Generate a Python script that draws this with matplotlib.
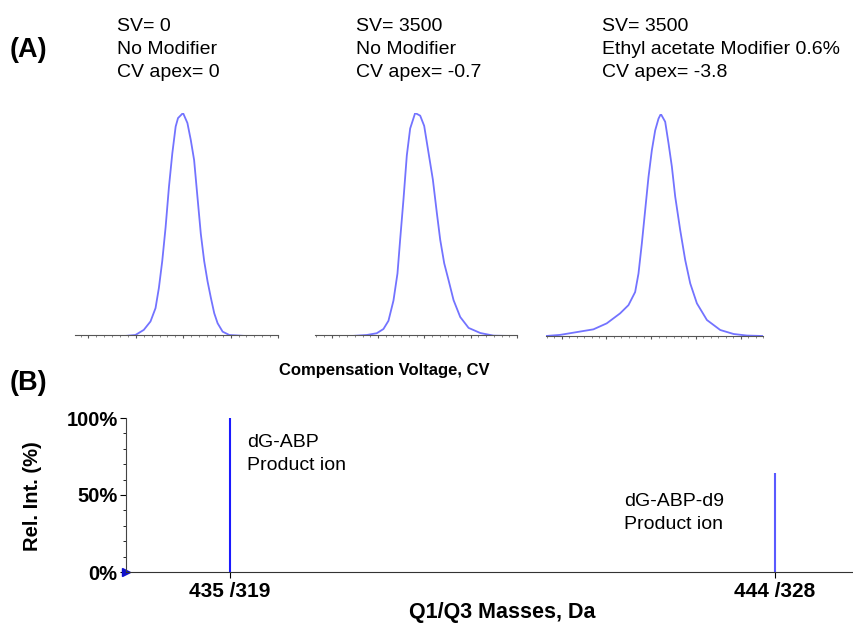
import matplotlib
matplotlib.use("Agg")
import matplotlib.pyplot as plt
from matplotlib.ticker import FixedLocator, MultipleLocator
import numpy as np

plt.rcParams["font.family"] = ["Liberation Sans", "DejaVu Sans"]

# ---- panel A: CV scans (x in arbitrary scan units, y in % of apex) ----
cv_1 = [45, 190, 225, 250, 270, 285, 295, 305, 315, 325, 335, 345, 352, 367,
        380, 390, 400, 410, 420, 430, 440, 450, 460, 470, 485, 505, 560, 650]
int_1 = [-0.5, -0.5, 0.0, 2.3, 6.1, 12.1, 21.2, 33.3, 48.5, 66.7, 81.8, 93.9,
         97.7, 100.0, 95.5, 87.9, 78.8, 62.1, 45.5, 33.3, 24.2, 16.7, 9.8,
         5.3, 1.5, 0.0, -0.5, -0.5]

cv_2 = [45, 150, 200, 230, 250, 265, 280, 292, 300, 310, 320, 330, 345, 360,
        372, 385, 398, 410, 420, 432, 445, 460, 480, 505, 540, 580, 650]
int_2 = [-0.5, -0.5, 0.0, 0.8, 2.7, 6.4, 15.5, 27.7, 42.9, 61.1, 80.9, 93.0,
         100.0, 98.8, 94.2, 82.1, 70.0, 54.9, 42.9, 32.3, 24.7, 15.7, 8.1,
         3.2, 0.9, -0.3, -0.5]

cv_3 = [18, 60, 100, 160, 200, 240, 265, 285, 295, 305, 315, 325, 335, 345,
        355, 362, 375, 385, 395, 405, 420, 435, 450, 470, 500, 540, 580, 620, 668]
int_3 = [0.0, 0.5, 1.5, 3.0, 5.7, 10.2, 13.9, 19.8, 28.1, 41.6, 56.6, 71.6,
         83.6, 92.6, 97.9, 100.0, 96.5, 86.8, 76.3, 62.8, 47.7, 34.2, 23.7,
         14.7, 7.2, 2.7, 0.9, 0.2, 0.0]

scan_labels = [
    ["SV= 0", "No Modifier", "CV apex= 0"],
    ["SV= 3500", "No Modifier", "CV apex= -0.7"],
    ["SV= 3500", "Ethyl acetate Modifier 0.6%", "CV apex= -3.8"],
]

# ---- panel B: MRM transitions ----
transitions = ["435 /319", "444 /328"]
rel_int = [100, 64]
ion_names = [["dG-ABP", "Product ion"], ["dG-ABP-d9", "Product ion"]]

W, H = 854, 624
fig = plt.figure(figsize=(W / 100, H / 100), dpi=100)


def box(x0, y0, x1, y1):
    # pixel box (top-left origin) -> figure fraction rect
    return [x0 / W, 1 - y1 / H, (x1 - x0) / W, (y1 - y0) / H]


def fpos(x, y):
    return x / W, 1 - y / H


peak_color = "#7373ff"
scans = [(cv_1, int_1), (cv_2, int_2), (cv_3, int_3)]
boxes = [box(75, 113, 278, 335), box(315, 113, 517, 335), box(546, 114, 763, 336)]
xlims = [(45, 650), (45, 650), (18, 668)]
majors = [(85, 141.25), (95, 138.75), (65, 134.0)]
label_x = [117, 356, 602]

for i, (cv, inten) in enumerate(scans):
    ax = fig.add_axes(boxes[i])
    ax.plot(cv, inten, color=peak_color, lw=1.3)
    ax.set_xlim(*xlims[i])
    ax.set_ylim(0, 100)
    for s in ["top", "right", "left"]:
        ax.spines[s].set_visible(False)
    ax.spines["bottom"].set_color("#555555")
    ax.spines["bottom"].set_linewidth(0.8)
    start, step = majors[i]
    lo, hi = xlims[i]
    ax.xaxis.set_major_locator(FixedLocator(np.arange(start, hi + 1, step)))
    ax.xaxis.set_minor_locator(FixedLocator(np.arange(start - step, hi + 1, step / 6)))
    ax.tick_params(axis="x", which="major", length=2.5, width=0.8, color="#555555",
                   labelbottom=False)
    ax.tick_params(axis="x", which="minor", length=1.5, width=0.6, color="#777777")
    ax.set_yticks([])
    ax.patch.set_alpha(0)

    for j, line in enumerate(scan_labels[i]):
        fig.text(*fpos(label_x[i], 31 + 23 * j), line, fontsize=14,
                 ha="left", va="baseline")

fig.text(*fpos(10, 50), "(A)", fontsize=19.5, fontweight="bold", ha="left", va="center")
fig.text(*fpos(279, 375), "Compensation Voltage, CV", fontsize=12,
         fontweight="bold", ha="left", va="baseline")

# ---- panel B ----
axb = fig.add_axes(box(126, 418, 852, 572))
x = np.arange(len(transitions))
axb.vlines(x, 0, rel_int, colors=["#1a1aff", "#5a5aff"], lw=1.5)
axb.set_xlim(-0.1909, 1.1412)
axb.set_ylim(0, 100)
axb.spines["top"].set_visible(False)
axb.spines["right"].set_visible(False)
axb.spines["left"].set_color("#444444")
axb.spines["bottom"].set_color("#333333")
axb.set_xticks(x)
axb.set_xticklabels(transitions, fontsize=15, fontweight="bold")
axb.set_yticks([0, 50, 100])
axb.set_yticklabels(["0%", "50%", "100%"], fontsize=14.5, fontweight="bold")
axb.yaxis.set_minor_locator(MultipleLocator(10))
axb.tick_params(axis="y", which="major", length=4, width=0.8, pad=2)
axb.tick_params(axis="y", which="minor", length=2, width=0.6)
axb.tick_params(axis="x", length=4, width=0.8, pad=3)
axb.plot([0], [0], marker=">", color="#1010cc", ms=6, transform=axb.transAxes,
         clip_on=False)

fig.text(*fpos(502, 618), "Q1/Q3 Masses, Da", fontsize=15.5, fontweight="bold",
         ha="center", va="baseline")
fig.text(*fpos(33, 496), "Rel. Int. (%)", fontsize=14.5, fontweight="bold",
         ha="center", va="center", rotation=90)

ann_pos = [(247, 447), (624, 506)]
for (ax_px, ay_px), lines in zip(ann_pos, ion_names):
    for j, line in enumerate(lines):
        fig.text(*fpos(ax_px, ay_px + 23 * j), line, fontsize=14,
                 ha="left", va="baseline")

fig.text(*fpos(10, 383), "(B)", fontsize=19.5, fontweight="bold", ha="left", va="center")

fig.savefig("out.png", dpi=100)
